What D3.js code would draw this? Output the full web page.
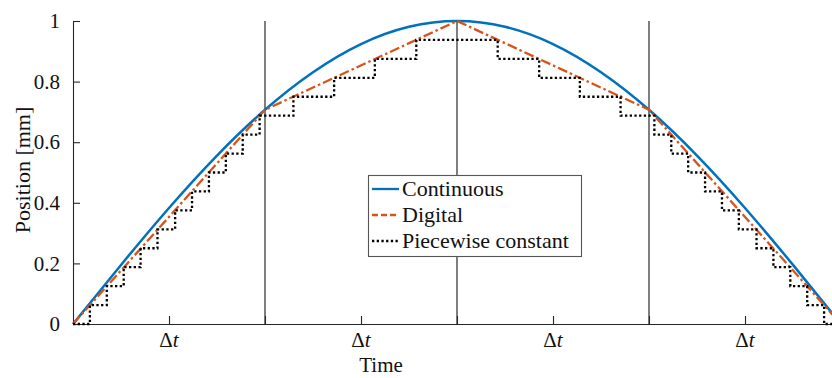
<!DOCTYPE html>
<html>
<head>
<meta charset="utf-8">
<script src="https://cdn.jsdelivr.net/npm/d3@7"></script>
<style>
  body { margin: 0; background: #fff; }
  svg { display: block; }
  svg text { font-family: "Liberation Serif", "DejaVu Serif", "Times New Roman", serif; }
</style>
</head>
<body>
<svg id="chart" width="832" height="378"></svg>
<script>
// continuous position, sampled every 1/16 of the time span
var contT   = [0, 0.0625, 0.125, 0.1875, 0.25, 0.3125, 0.375, 0.4375, 0.5,
               0.5625, 0.625, 0.6875, 0.75, 0.8125, 0.875, 0.9375, 1];
var contPos = [0, 0.195, 0.383, 0.556, 0.707, 0.831, 0.924, 0.981, 1,
               0.981, 0.924, 0.831, 0.707, 0.556, 0.383, 0.195, 0];

// digital samples (one per delta t)
var sampleT   = [0, 0.25, 0.5, 0.75, 1];
var digitalPos = [0, 0.707, 1, 0.707, 0];

// piecewise constant (quantized) staircase: time where each level starts
var stepT = [0, 0.022, 0.044, 0.066, 0.088, 0.110, 0.133, 0.155, 0.177, 0.199, 0.221, 0.243,
             0.287, 0.340, 0.393, 0.447, 0.553, 0.607, 0.660, 0.713,
             0.757, 0.779, 0.801, 0.823, 0.845, 0.867, 0.890, 0.912, 0.934, 0.956, 0.978, 1];
var stepLevel = [0, 0.0625, 0.125, 0.1875, 0.25, 0.3125, 0.375, 0.4375, 0.5, 0.5625, 0.625, 0.6875,
                 0.75, 0.8125, 0.875, 0.9375, 0.875, 0.8125, 0.75, 0.6875,
                 0.625, 0.5625, 0.5, 0.4375, 0.375, 0.3125, 0.25, 0.1875, 0.125, 0.0625, 0, 0];

var yTicks     = [0, 0.2, 0.4, 0.6, 0.8, 1];
var yTickLabels = ["0", "0.2", "0.4", "0.6", "0.8", "1"];
var sampleLines = [0.25, 0.5, 0.75];          // vertical separators
var dtTicks    = [0.125, 0.375, 0.625, 0.875]; // labelled with delta t

var svg = d3.select("#chart");
var axisColor = "#262626";
var serif = "'Liberation Serif', 'DejaVu Serif', 'Times New Roman', serif";

var x = d3.scaleLinear().domain([0, 1]).range([73, 841]);
var y = d3.scaleLinear().domain([0, 1]).range([324, 21]);

// vertical lines at sample instants
svg.append("g")
  .selectAll("line")
  .data(sampleLines)
  .enter().append("line")
    .attr("x1", function(d) { return x(d); })
    .attr("x2", function(d) { return x(d); })
    .attr("y1", y(0))
    .attr("y2", y(1))
    .attr("stroke", "#3a3a3a")
    .attr("stroke-width", 1.3);

// x axis (ticks pointing inward)
var xAxis = d3.axisBottom(x)
  .tickValues(dtTicks.concat(sampleLines))
  .tickSize(-8)
  .tickSizeOuter(0)
  .tickFormat("");
var gx = svg.append("g")
  .attr("transform", "translate(0," + y(0) + ")")
  .call(xAxis);
gx.select(".domain").attr("stroke", axisColor).attr("stroke-width", 1.1);
gx.selectAll(".tick line").attr("stroke", axisColor).attr("stroke-width", 1.1);

// delta t labels
var dtText = svg.append("g")
  .selectAll("text")
  .data(dtTicks)
  .enter().append("text")
    .attr("x", function(d) { return x(d); })
    .attr("y", 347)
    .attr("text-anchor", "middle")
    .attr("font-family", serif)
    .attr("font-size", 21)
    .attr("fill", "#111");
dtText.append("tspan").text("Δ");
dtText.append("tspan").attr("font-style", "italic").text("t");

// y axis (ticks pointing inward)
var yAxis = d3.axisLeft(y)
  .tickValues(yTicks)
  .tickSize(-7)
  .tickSizeOuter(0)
  .tickPadding(13)
  .tickFormat(function(d, i) { return yTickLabels[i]; });
var gy = svg.append("g")
  .attr("transform", "translate(" + x(0) + ",0)")
  .call(yAxis)
  .attr("font-family", serif);
gy.select(".domain").attr("stroke", axisColor).attr("stroke-width", 1.1);
gy.selectAll(".tick line").attr("stroke", axisColor).attr("stroke-width", 1.1);
gy.selectAll(".tick text")
  .attr("font-size", 21)
  .attr("fill", "#111");

// axis labels
svg.append("text")
  .attr("x", 381)
  .attr("y", 372)
  .attr("text-anchor", "middle")
  .attr("font-family", serif)
  .attr("font-size", 21)
  .attr("fill", "#111")
  .text("Time");

svg.append("text")
  .attr("transform", "translate(30,170) rotate(-90)")
  .attr("text-anchor", "middle")
  .attr("font-family", serif)
  .attr("font-size", 22)
  .attr("fill", "#111")
  .text("Position [mm]");

// series
var contLine = d3.line()
  .x(function(d, i) { return x(contT[i]); })
  .y(function(d) { return y(d); })
  .curve(d3.curveNatural);

var digLine = d3.line()
  .x(function(d, i) { return x(sampleT[i]); })
  .y(function(d) { return y(d); });

var stepLine = d3.line()
  .x(function(d, i) { return x(stepT[i]); })
  .y(function(d) { return y(d); })
  .curve(d3.curveStepAfter);

svg.append("path")
  .attr("d", contLine(contPos))
  .attr("fill", "none")
  .attr("stroke", "#0072BD")
  .attr("stroke-width", 2.5);

svg.append("path")
  .attr("d", digLine(digitalPos))
  .attr("fill", "none")
  .attr("stroke", "#D95319")
  .attr("stroke-width", 2.3)
  .attr("stroke-dasharray", "10,3,2.5,3");

svg.append("path")
  .attr("d", stepLine(stepLevel))
  .attr("fill", "none")
  .attr("stroke", "#000")
  .attr("stroke-width", 2.3)
  .attr("stroke-dasharray", "2.3,2.4");

// legend
var legendItems = [
  { name: "Continuous",          color: "#0072BD", dash: null },
  { name: "Digital",             color: "#D95319", dash: "6,3" },
  { name: "Piecewise constant",  color: "#000",    dash: "2.3,2.4" }
];

var legend = svg.append("g");
legend.append("rect")
  .attr("x", 368.5)
  .attr("y", 175.5)
  .attr("width", 213)
  .attr("height", 81)
  .attr("fill", "#fff")
  .attr("stroke", "#555")
  .attr("stroke-width", 1.1);

var row = legend.selectAll("g.row")
  .data(legendItems)
  .enter().append("g")
    .attr("class", "row")
    .attr("transform", function(d, i) { return "translate(0," + (189 + i * 26) + ")"; });

row.append("line")
  .attr("x1", 372)
  .attr("x2", 399)
  .attr("stroke", function(d) { return d.color; })
  .attr("stroke-width", 2.3)
  .attr("stroke-dasharray", function(d) { return d.dash; });

row.append("text")
  .attr("x", 402)
  .attr("y", 7)
  .attr("font-family", serif)
  .attr("font-size", 22)
  .attr("fill", "#111")
  .text(function(d) { return d.name; });
</script>
</body>
</html>
